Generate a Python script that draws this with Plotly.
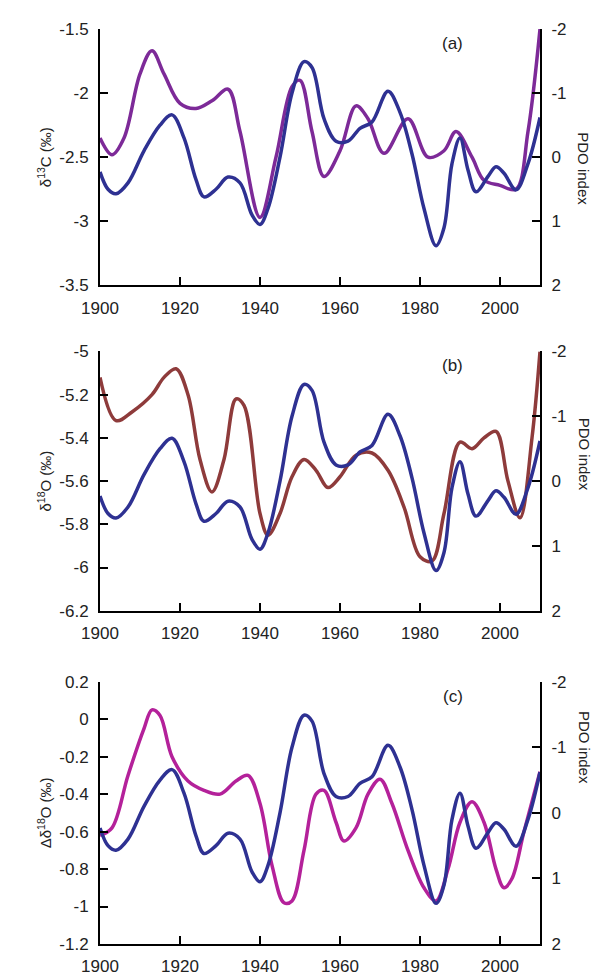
import plotly.graph_objects as go

pdo_years = [1900, 1902, 1904, 1907, 1911, 1915, 1918, 1921, 1924, 1926, 1929, 1932, 1935, 1938, 1940,
             1942, 1945, 1948, 1951, 1953, 1956, 1959, 1962, 1965, 1968, 1972, 1975, 1978, 1981, 1984,
             1986, 1988, 1990, 1992, 1994, 1997, 1999, 2001, 2004, 2007, 2010]
pdo = [0.23, 0.5, 0.57, 0.4, -0.1, -0.5, -0.66, -0.3, 0.35, 0.62, 0.5, 0.31, 0.4, 0.9, 1.05,
       0.8, 0.0, -1.0, -1.49, -1.4, -0.6, -0.25, -0.25, -0.45, -0.55, -1.03, -0.7, -0.05, 0.8, 1.38,
       1.1, 0.1, -0.3, 0.2, 0.54, 0.3, 0.15, 0.25, 0.51, 0.1, -0.62]

c13_years = [1900, 1903, 1906, 1910, 1913, 1916, 1920, 1924, 1928, 1932, 1935, 1940, 1944, 1948, 1950,
             1953, 1956, 1960, 1964, 1967, 1971, 1977, 1982, 1986, 1989, 1993, 1996, 2000, 2004, 2007, 2010]
c13 = [-2.35, -2.48, -2.35, -1.85, -1.67, -1.85, -2.08, -2.12, -2.06, -1.97, -2.3, -2.97, -2.5, -1.95, -1.9,
       -2.3, -2.65, -2.45, -2.1, -2.2, -2.47, -2.2, -2.5, -2.45, -2.3, -2.5, -2.68, -2.72, -2.75, -2.3, -1.5]

o18_years = [1900, 1904, 1908, 1913, 1916, 1919, 1922, 1925, 1928, 1931, 1934, 1936, 1940, 1942, 1945,
             1948, 1951, 1954, 1957, 1960, 1964, 1968, 1972, 1976, 1980, 1983, 1986, 1990, 1993, 1996,
             1999, 2002, 2005, 2008, 2010]
o18 = [-5.12, -5.32, -5.28, -5.2, -5.12, -5.08, -5.2, -5.5, -5.65, -5.5, -5.22, -5.25, -5.75, -5.85, -5.75,
       -5.58, -5.5, -5.55, -5.63, -5.58, -5.48, -5.47, -5.55, -5.72, -5.95, -5.97, -5.75, -5.42, -5.45, -5.4,
       -5.37, -5.6, -5.77, -5.4, -5.0]

d18_years = [1900, 1903, 1907, 1911, 1913, 1915, 1918, 1922, 1926, 1930, 1934, 1937, 1940, 1943, 1946,
             1948, 1951, 1954, 1956, 1959, 1961, 1964, 1967, 1970, 1973, 1977, 1981, 1984, 1987, 1990,
             1993, 1996, 1999, 2001, 2003, 2006, 2010]
d18 = [-0.62, -0.58, -0.3, -0.05, 0.05, 0.02, -0.2, -0.33, -0.38, -0.4, -0.33, -0.3, -0.45, -0.78, -0.98,
       -0.97, -0.7, -0.4, -0.38, -0.55, -0.65, -0.58, -0.4, -0.32, -0.45, -0.7, -0.9, -0.97, -0.8, -0.55,
       -0.44, -0.55, -0.8, -0.9, -0.85, -0.6, -0.28]

c13_ticks = [-3.5, -3, -2.5, -2, -1.5]
o18_ticks = [-6.2, -6, -5.8, -5.6, -5.4, -5.2, -5]
d18_ticks = [-1.2, -1, -0.8, -0.6, -0.4, -0.2, 0, 0.2]
pdo_ticks = [-2, -1, 0, 1, 2]
year_ticks = [1900, 1920, 1940, 1960, 1980, 2000]

blue = "#2E3192"
panels = [
    dict(x=c13_years, y=c13, color="#7D2A98", rng=[-3.5, -1.5], tv=c13_ticks, title="δ<sup>13</sup>C (‰)",
         dom=[0.7198, 1.0], lab="(a)"),
    dict(x=o18_years, y=o18, color="#8E3B3B", rng=[-6.2, -5.0], tv=o18_ticks, title="δ<sup>18</sup>O (‰)",
         dom=[0.3642, 0.6476], lab="(b)"),
    dict(x=d18_years, y=d18, color="#B4219A", rng=[-1.2, 0.2], tv=d18_ticks, title="Δδ<sup>18</sup>O (‰)",
         dom=[0.0, 0.2866], lab="(c)"),
]

def lab(v):
    return "%g" % v

FAM = "Liberation Sans, Arial"
font = dict(family=FAM, size=17, color="#222")
ax_common = dict(showline=True, linecolor="black", linewidth=2, ticks="inside", ticklen=8,
                 tickwidth=2, tickcolor="black", showgrid=False, zeroline=False, tickfont=font,
                 ticklabelstandoff=6)

fig = go.Figure()
annotations = []
for i, p in enumerate(panels):
    n = i + 1
    xa = "x" if n == 1 else f"x{n}"
    yl = 2 * n - 1
    yr = 2 * n
    yl_name = "y" if yl == 1 else f"y{yl}"
    yr_name = f"y{yr}"
    fig.add_trace(go.Scatter(x=p["x"], y=p["y"], mode="lines", line=dict(color=p["color"], width=3.5, shape="spline"),
                             xaxis=xa, yaxis=yl_name, showlegend=False))
    fig.add_trace(go.Scatter(x=pdo_years, y=pdo, mode="lines", line=dict(color=blue, width=3.5, shape="spline"),
                             xaxis=xa, yaxis=yr_name, showlegend=False))
    xkey = "xaxis" if n == 1 else f"xaxis{n}"
    fig.update_layout(**{
        xkey: dict(ax_common, range=[1900, 2010], tickvals=year_ticks, ticktext=[str(v) for v in year_ticks],
                   anchor=yl_name, domain=[0, 1]),
        ("yaxis" if yl == 1 else f"yaxis{yl}"): dict(ax_common, range=p["rng"], tickvals=p["tv"],
                   ticktext=[lab(v) for v in p["tv"]], domain=p["dom"], anchor=xa,
                   title=dict(text=p["title"], font=dict(family=FAM, size=15, color="#222"), standoff=4)),
        f"yaxis{yr}": dict(ax_common, range=[2, -2], tickvals=pdo_ticks, ticktext=[lab(v) for v in pdo_ticks],
                   domain=p["dom"], anchor=xa, overlaying=yl_name, side="right"),
    })
    annotations.append(dict(text="PDO index", textangle=90, xref="paper", yref="paper", x=1.1,
                            y=(p["dom"][0] + p["dom"][1]) / 2 + 0.03, showarrow=False,
                            font=dict(family=FAM, size=15, color="#222"), xanchor="center"))
    annotations.append(dict(text=p["lab"], xref="paper", yref="paper", x=0.83, y=p["dom"][1] - 0.003,
                            showarrow=False, yanchor="top", font=dict(family=FAM, size=17, color="#222")))

fig.update_layout(width=599, height=980, margin=dict(l=92, r=67, t=15, b=38),
                  plot_bgcolor="white", paper_bgcolor="white", annotations=annotations)
fig.write_html("out.html")
